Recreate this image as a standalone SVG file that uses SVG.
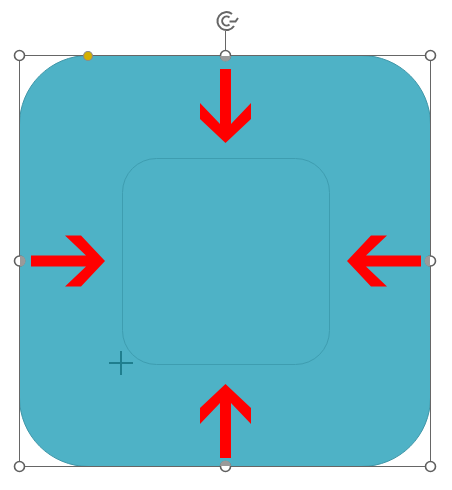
<svg xmlns="http://www.w3.org/2000/svg" width="452" height="490" viewBox="0 0 452 490">
<style>
.arrow{fill:#FF0000}
.handle{fill:#FFFFFF;stroke:#5F5F5F;stroke-width:1.6}
.half{fill:#9A9A9A}
</style>
<defs>
<polygon id="arr" points="-5.5,-74 5.5,-74 5.5,-19 25.5,-40 25.5,-24 0,0 -25.5,-24 -25.5,-40 -5.5,-19"/>
</defs>
<rect width="452" height="490" fill="#FFFFFF"/>
<g id="shape">
<rect x="19.5" y="55.5" width="411" height="411" rx="69" ry="69" fill="#4EB2C6" stroke="#3F96A8" stroke-width="1"/>
</g>
<g id="inner">
<rect x="122.5" y="158.5" width="207" height="206" rx="34" ry="34" fill="none" stroke="#3E9DB0" stroke-width="1"/>
</g>
<g id="selection">
<rect x="19.5" y="55.5" width="411" height="411" fill="none" stroke="#666666" stroke-width="1"/>
<line x1="225.5" y1="31" x2="225.5" y2="55" stroke="#666666" stroke-width="1"/>
</g>
<g id="arrows">
<use href="#arr" class="arrow" transform="translate(225.5,143)"/>
<use href="#arr" class="arrow" transform="translate(225.5,384) rotate(180)"/>
<use href="#arr" class="arrow" transform="translate(105,261) rotate(-90)"/>
<use href="#arr" class="arrow" transform="translate(347,261) rotate(90)"/>
</g>
<g id="cursor" stroke="#1F7E8E" stroke-width="2">
<line x1="109" y1="363" x2="133" y2="363"/>
<line x1="121" y1="351" x2="121" y2="375"/>
</g>
<g id="handles">
<circle class="handle" cx="19.5" cy="55.5" r="5"/>
<circle class="handle" cx="430.5" cy="55.5" r="5"/>
<circle class="handle" cx="19.5" cy="466.5" r="5"/>
<circle class="handle" cx="430.5" cy="466.5" r="5"/>
<circle class="handle" cx="225.5" cy="55.5" r="5"/>
<path class="half" d="M220,56 A5.5,5.5 0 0 0 231,56 Z"/>
<circle class="handle" cx="225.5" cy="466.5" r="5"/>
<path class="half" d="M220,466 A5.5,5.5 0 0 1 231,466 Z"/>
<circle class="handle" cx="19.5" cy="261" r="5"/>
<path class="half" d="M20,255.5 A5.5,5.5 0 0 1 20,266.5 Z"/>
<circle class="handle" cx="430.5" cy="261" r="5"/>
<path class="half" d="M430,255.5 A5.5,5.5 0 0 0 430,266.5 Z"/>
<circle cx="88" cy="56" r="4.5" fill="#D4B000" stroke="#8A8A8A" stroke-width="1.2"/>
</g>
<g id="rotate" fill="none" stroke="#666666" stroke-width="2">
<path d="M234,26 A9,9 0 1 1 232,14"/>
<path d="M229.5,24.5 A4.5,4.5 0 1 1 229.5,17.5"/>
<path d="M229.5,21.5 L235.5,21.5 L238,18" stroke-linejoin="miter"/>
</g>
</svg>
